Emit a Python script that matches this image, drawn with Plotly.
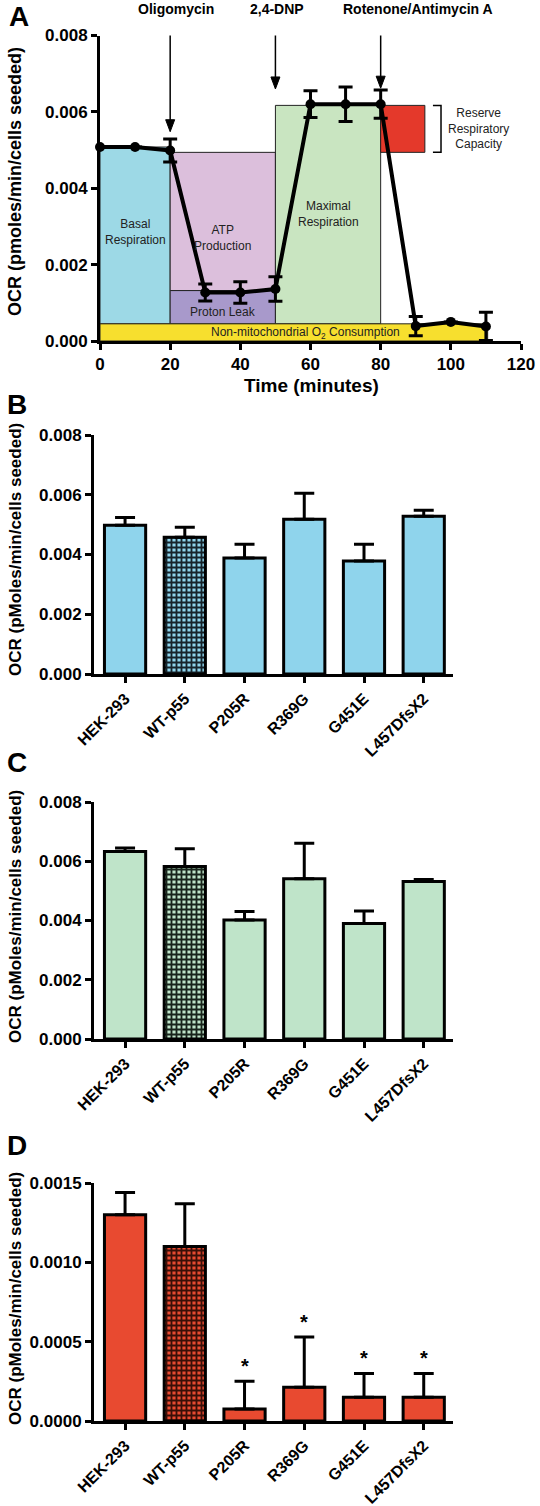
import plotly.graph_objects as go

W, H = 540, 1506

# ---------------- Panel A data ----------------
time_min = [0, 10, 20, 30, 40, 50, 60, 70, 80, 90, 100, 110]
ocr_a = [0.00508, 0.00508, 0.00499, 0.00127, 0.00127, 0.00136, 0.00620, 0.00620, 0.00620, 0.00039, 0.00050, 0.00038]
ocr_a_err = [0, 0, 0.00030, 0.00022, 0.00028, 0.00032, 0.00035, 0.00045, 0.00037, 0.00025, 0, 0.00037]

region_names = ["basal", "atp", "leak", "maximal", "reserve", "nonmito"]
region_x0 = [0, 20, 20, 50, 80, 0]
region_x1 = [20, 50, 50, 80, 92.6, 110.5]
region_y0 = [0.00045, 0.00132, 0.00045, 0.00045, 0.00494, 0.0]
region_y1 = [0.00508, 0.00494, 0.00132, 0.00617, 0.00617, 0.00045]
region_colors = ["#9dd9e6", "#dcbfdc", "#a899cb", "#c9e5c1", "#e4392b", "#f7df2e"]

injections = ["Oligomycin", "2,4-DNP", "Rotenone/Antimycin A"]
injection_time = [20, 50, 80]
injection_tip = [0.00548, 0.00660, 0.00662]
injection_label_px = [175.6, 276.5, 418]

# ---------------- Bar panels data ----------------
cell_lines = ["HEK-293", "WT-p55", "P205R", "R369G", "G451E", "L457DfsX2"]
basal_ocr = [0.00498, 0.00458, 0.00388, 0.00518, 0.00378, 0.00528]
basal_err = [0.00026, 0.00033, 0.00046, 0.00087, 0.00056, 0.00020]
maximal_ocr = [0.00633, 0.00582, 0.00402, 0.00541, 0.00390, 0.00532]
maximal_err = [0.00012, 0.00060, 0.00028, 0.00120, 0.00042, 0.00006]
reserve_ocr = [0.00130, 0.00110, 0.000076, 0.000213, 0.00015, 0.00015]
reserve_err = [0.00014, 0.00027, 0.000174, 0.000317, 0.00015, 0.00015]
reserve_sig = ["", "", "*", "*", "*", "*"]

FONT = "Liberation Sans, Arial, sans-serif"

# panel A pixel frame
A_LEFT, A_RIGHT, A_BOTTOM, A_TOP = 100, 521, 341, 35.5
A_YMAX = 0.008
ARROW_TAIL_PX = 21


def px_x(p):
    return p / W


def px_y(p):
    return 1 - p / H


def paper_ann(x, y, text, size, bold=False, angle=0, color="black"):
    return dict(x=px_x(x), y=px_y(y), xref="paper", yref="paper",
                xanchor="center", yanchor="middle",
                text=f"<b>{text}</b>" if bold else text, textangle=angle, showarrow=False,
                font=dict(family=FONT, size=size, color=color))


fig = go.Figure()

# ---------------- Panel A ----------------
fig.add_trace(go.Scatter(
    x=time_min, y=ocr_a, mode="lines+markers",
    line=dict(color="black", width=4),
    marker=dict(color="black", size=10),
    error_y=dict(type="data", array=ocr_a_err, visible=True, color="black", thickness=3, width=7),
    xaxis="x", yaxis="y", showlegend=False, cliponaxis=False,
))

shapes = []
for nm, x0, x1, y0, y1, c in zip(region_names, region_x0, region_x1, region_y0, region_y1, region_colors):
    shapes.append(dict(type="rect", xref="x", yref="y", x0=x0, x1=x1, y0=y0, y1=y1,
                       fillcolor=c, line=dict(color="#222", width=1), layer="below"))
shapes.append(dict(type="path", xref="x", yref="y",
                   path=f"M 94.9,{region_y1[4]} L 97.2,{region_y1[4]} L 97.2,{region_y0[4]} L 94.9,{region_y0[4]}",
                   line=dict(color="black", width=1.5)))

annotations = []
for name, t, tip, lx in zip(injections, injection_time, injection_tip, injection_label_px):
    tip_px = A_BOTTOM - tip / A_YMAX * (A_BOTTOM - A_TOP)
    # shaft (pixel-sized, anchored at the data tip)
    shapes.append(dict(type="line", xref="x", yref="y", xsizemode="pixel", ysizemode="pixel",
                       xanchor=t, yanchor=tip, x0=0, x1=0, y0=10, y1=tip_px - ARROW_TAIL_PX,
                       line=dict(color="black", width=1.5), layer="above"))
    # head
    shapes.append(dict(type="path", xref="x", yref="y", xsizemode="pixel", ysizemode="pixel",
                       xanchor=t, yanchor=tip, path="M -4.5,12 L 4.5,12 L 0,0 Z",
                       fillcolor="black", line=dict(color="black", width=1), layer="above"))
    annotations.append(paper_ann(lx, 9, name, 14, bold=True))

region_text = [
    (10, 0.00285, "Basal<br>Respiration"),
    (35, 0.00270, "ATP<br>Production"),
    (35, 0.00075, "Proton Leak"),
    (65, 0.00332, "Maximal<br>Respiration"),
    (58.5, 0.00022, "Non-mitochondrial O<sub>2</sub> Consumption"),
]
for x, y, t in region_text:
    annotations.append(dict(x=x, y=y, xref="x", yref="y", text=t, showarrow=False,
                            xanchor="center", yanchor="middle",
                            font=dict(family=FONT, size=12, color="#222")))
annotations.append(paper_ann(478, 128, "Reserve<br>Respiratory<br>Capacity", 12, color="#222"))

axis_common = dict(showline=True, linecolor="black", linewidth=3, ticks="outside",
                   ticklen=6, tickwidth=3, tickcolor="black", showgrid=False, zeroline=False,
                   automargin=False,
                   tickfont=dict(family=FONT, size=17, color="black", weight="bold"))

layout = dict(
    template="none",
    width=W, height=H, margin=dict(l=0, r=0, t=0, b=0, autoexpand=False),
    paper_bgcolor="white", plot_bgcolor="rgba(0,0,0,0)",
    font=dict(family=FONT),
    showlegend=False,
    xaxis=dict(domain=[px_x(A_LEFT), px_x(A_RIGHT)], range=[0, 120], tickvals=[0, 20, 40, 60, 80, 100, 120],
               anchor="y", **axis_common),
    yaxis=dict(domain=[px_y(A_BOTTOM), px_y(A_TOP)], range=[0, A_YMAX],
               tickvals=[0, 0.002, 0.004, 0.006, 0.008], tickformat=".3f", anchor="x", **axis_common),
)
annotations.append(paper_ann(312, 385, "Time (minutes)", 19, bold=True))
annotations.append(paper_ann(19, 17, "A", 28, bold=True))
annotations.append(paper_ann(15, 182, "OCR (pmoles/min/cells seeded)", 18, bold=True, angle=-90))

# ---------------- Bar panels ----------------
panels = [
    ("B", basal_ocr, basal_err, "#8fd4ec", "#16232b", (674, 435), 0.008, ".3f", [0, 0.002, 0.004, 0.006, 0.008], 2, 404, 550),
    ("C", maximal_ocr, maximal_err, "#bfe4c9", "#18241b", (1039, 802), 0.008, ".3f", [0, 0.002, 0.004, 0.006, 0.008], 3, 762, 917),
    ("D", reserve_ocr, reserve_err, "#e84a30", "#3a0f08", (1421, 1183), 0.0015, ".4f", [0, 0.0005, 0.0010, 0.0015], 4, 1145, 1299),
]
for letter, vals, errs, color, dark, (yb, yt), ymax, fmt, tv, idx, letter_y, title_y in panels:
    xa = f"x{idx}"
    ya = f"y{idx}"
    for c, v, e in zip(cell_lines, vals, errs):
        pattern = dict(shape="+", fgcolor=dark, bgcolor=color, size=5, solidity=0.6) if c == "WT-p55" else dict(shape="")
        fig.add_trace(go.Bar(
            x=[c], y=[v], width=0.69,
            marker=dict(color=color, line=dict(color="black", width=3), pattern=pattern),
            error_y=dict(type="data", array=[e], arrayminus=[0], symmetric=False, visible=True,
                         color="black", thickness=3, width=10),
            xaxis=xa, yaxis=ya, showlegend=False,
        ))
    layout[f"xaxis{idx}"] = dict(domain=[px_x(94), px_x(453)], anchor=ya, type="category",
                                 categoryorder="array", categoryarray=cell_lines,
                                 range=[-0.52, 5.49], tickangle=-45,
                                 **{**axis_common, "tickfont": dict(family=FONT, size=16, color="black", weight="bold")})
    layout[f"yaxis{idx}"] = dict(domain=[px_y(yb), px_y(yt)], anchor=xa, range=[0, ymax],
                                 tickvals=tv, tickformat=fmt, **axis_common)
    annotations.append(paper_ann(17, letter_y, letter, 28, bold=True))
    annotations.append(paper_ann(15, title_y, "OCR (pMoles/min/cells seeded)", 17, bold=True, angle=-90))

for c, v, e, s in zip(cell_lines, reserve_ocr, reserve_err, reserve_sig):
    if s:
        annotations.append(dict(x=c, y=v + e, xref="x4", yref="y4", text=f"<b>{s}</b>",
                                showarrow=False, xanchor="center", yanchor="bottom", yshift=2,
                                font=dict(family=FONT, size=20, color="black")))

layout["shapes"] = shapes
layout["annotations"] = annotations
fig.update_layout(**layout)

fig.write_html("out.html", config={"displayModeBar": False},
               post_script="document.body.style.margin='0';document.body.style.overflow='hidden';")
